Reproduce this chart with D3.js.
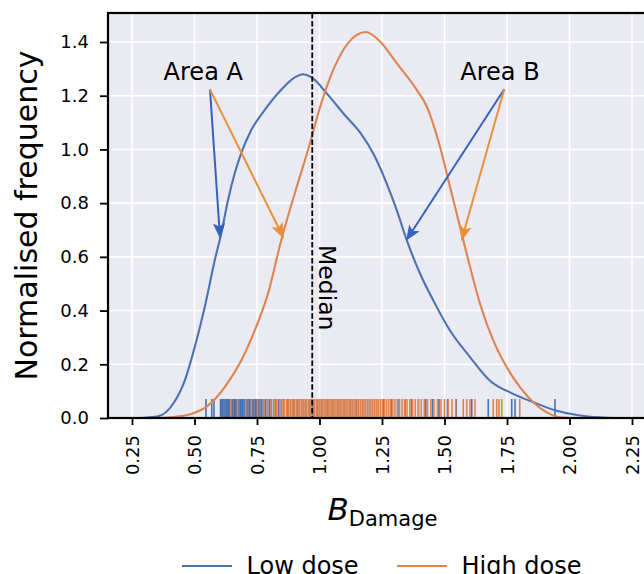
<!DOCTYPE html>
<html>
<head>
<meta charset="utf-8">
<script src="https://cdn.jsdelivr.net/npm/d3@7"></script>
<style>
  html, body { margin: 0; padding: 0; background: #ffffff; overflow: hidden; }
  svg { display: block; }
  text { font-family: "DejaVu Sans", Verdana, sans-serif; fill: #000; }
</style>
</head>
<body>
<svg id="chart" width="644" height="574"></svg>
<script>
// ---------------- data ----------------
const xTicks = [0.25, 0.50, 0.75, 1.00, 1.25, 1.50, 1.75, 2.00, 2.25];
const xTickLabels = ["0.25", "0.50", "0.75", "1.00", "1.25", "1.50", "1.75", "2.00", "2.25"];
const yTicks = [0.0, 0.2, 0.4, 0.6, 0.8, 1.0, 1.2, 1.4];
const yTickLabels = ["0.0", "0.2", "0.4", "0.6", "0.8", "1.0", "1.2", "1.4"];

const seriesNames = ["Low dose", "High dose"];

// KDE curves
const lowX = [0.25, 0.30, 0.354, 0.414, 0.461, 0.501, 0.541, 0.581, 0.607, 0.634, 0.661, 0.687, 0.727, 0.781, 0.847, 0.901, 0.934, 0.967, 1.034, 1.101, 1.165, 1.215, 1.269, 1.309, 1.349, 1.402, 1.455, 1.522, 1.602, 1.682, 1.775, 1.855, 1.949, 2.042, 2.149, 2.23];
const lowY = [0.0, 0.001, 0.006, 0.052, 0.139, 0.264, 0.413, 0.587, 0.687, 0.811, 0.911, 0.986, 1.072, 1.147, 1.222, 1.268, 1.280, 1.269, 1.203, 1.128, 1.060, 0.985, 0.873, 0.774, 0.662, 0.538, 0.438, 0.326, 0.227, 0.139, 0.090, 0.059, 0.027, 0.009, 0.001, 0.0];

const highX = [0.36, 0.394, 0.44, 0.487, 0.554, 0.621, 0.687, 0.741, 0.794, 0.847, 0.901, 0.954, 1.007, 1.061, 1.114, 1.185, 1.242, 1.309, 1.389, 1.429, 1.482, 1.522, 1.562, 1.602, 1.642, 1.695, 1.749, 1.802, 1.855, 1.909, 1.962, 2.02];
const highY = [0.0, 0.002, 0.006, 0.015, 0.046, 0.115, 0.214, 0.326, 0.463, 0.662, 0.836, 0.998, 1.172, 1.309, 1.396, 1.437, 1.402, 1.321, 1.222, 1.160, 1.010, 0.861, 0.712, 0.563, 0.426, 0.289, 0.189, 0.115, 0.059, 0.021, 0.003, 0.0];

// rug values (individual observations)
const lowRug = [0.546, 0.569, 0.578, 0.604, 0.609, 0.613, 0.618, 0.622, 0.627, 0.631, 0.636, 0.640, 0.645, 0.650, 0.654, 0.659, 0.664, 0.668, 0.673, 0.678, 0.683, 0.688, 0.693, 0.698, 0.703, 0.709, 0.714, 0.720, 0.726, 0.731, 0.737, 0.743, 0.749, 0.756, 0.762, 0.769, 0.776, 0.783, 0.791, 0.799, 0.807, 0.816, 0.826, 0.836, 0.847, 0.858, 0.870, 0.884, 0.898, 0.913, 0.929, 0.945, 0.962, 0.972, 0.991, 1.010, 1.031, 1.052, 1.075, 1.098, 1.122, 1.147, 1.173, 1.200, 1.228, 1.257, 1.287, 1.318, 1.342, 1.368, 1.396, 1.425, 1.452, 1.473, 1.478, 1.512, 1.547, 1.609, 1.675, 1.769, 1.782, 1.942];
const highRug = [0.645, 0.672, 0.705, 0.728, 0.752, 0.778, 0.792, 0.806, 0.818, 0.829, 0.840, 0.850, 0.859, 0.868, 0.876, 0.884, 0.892, 0.900, 0.907, 0.914, 0.921, 0.928, 0.935, 0.942, 0.948, 0.955, 0.962, 0.968, 0.975, 0.981, 0.988, 0.994, 1.000, 1.006, 1.012, 1.018, 1.024, 1.030, 1.036, 1.042, 1.048, 1.054, 1.060, 1.066, 1.072, 1.078, 1.084, 1.090, 1.096, 1.102, 1.108, 1.114, 1.120, 1.126, 1.132, 1.138, 1.144, 1.150, 1.157, 1.164, 1.171, 1.178, 1.185, 1.192, 1.199, 1.206, 1.213, 1.220, 1.228, 1.236, 1.244, 1.252, 1.260, 1.268, 1.276, 1.284, 1.293, 1.302, 1.311, 1.320, 1.330, 1.340, 1.350, 1.361, 1.372, 1.383, 1.395, 1.407, 1.419, 1.432, 1.445, 1.458, 1.472, 1.486, 1.500, 1.515, 1.530, 1.545, 1.575, 1.589, 1.602, 1.622, 1.695, 1.709, 1.718, 1.729, 1.801];

const medianValue = 0.971;

// annotations: label, text anchor point, arrow start, arrow targets (low, high)
const annLabels = ["Area A", "Area B"];
const annTextX = [0.535, 1.722];
const annTextY = [1.26, 1.26];
const annStartX = [0.562, 1.739];
const annStartY = [1.223, 1.224];
const annLowTipX = [0.602, 1.349];
const annLowTipY = [0.673, 0.664];
const annHighTipX = [0.855, 1.569];
const annHighTipY = [0.673, 0.664];

// ---------------- layout ----------------
const colors = ["#4c72b0", "#dd8452"];
const arrowColors = ["#3462c0", "#e8903c"];
const plot = { left: 108, top: 13, right: 646, bottom: 418 };

const svg = d3.select("#chart");
const x = d3.scaleLinear().domain([0.154, 2.306]).range([plot.left, plot.right]);
const y = d3.scaleLinear().domain([0, 1.508]).range([plot.bottom, plot.top]);

svg.append("defs").append("clipPath").attr("id", "clip")
  .append("rect").attr("x", plot.left).attr("y", plot.top)
  .attr("width", plot.right - plot.left).attr("height", plot.bottom - plot.top);

// background
svg.append("rect").attr("x", plot.left).attr("y", plot.top)
  .attr("width", plot.right - plot.left).attr("height", plot.bottom - plot.top)
  .attr("fill", "#eaeaf2");

// grid
const grid = svg.append("g").attr("clip-path", "url(#clip)");
grid.selectAll("line.gx").data(xTicks).join("line")
  .attr("x1", d => x(d)).attr("x2", d => x(d))
  .attr("y1", plot.top).attr("y2", plot.bottom)
  .attr("stroke", "#fff").attr("stroke-width", 1.6);
grid.selectAll("line.gy").data(yTicks).join("line")
  .attr("class", "gy")
  .attr("x1", plot.left).attr("x2", plot.right)
  .attr("y1", d => y(d)).attr("y2", d => y(d))
  .attr("stroke", "#fff").attr("stroke-width", 1.6);

const content = svg.append("g").attr("clip-path", "url(#clip)");

// rug
const rugTop = plot.bottom - 19;
[lowRug, highRug].forEach((arr, i) => {
  content.append("g").selectAll("line").data(arr).join("line")
    .attr("x1", d => x(d)).attr("x2", d => x(d))
    .attr("y1", rugTop).attr("y2", plot.bottom)
    .attr("stroke", colors[i]).attr("stroke-width", 1.6);
});

// KDE curves
const line = d3.line().x(d => x(d[0])).y(d => y(d[1])).curve(d3.curveMonotoneX);
content.append("path").datum(lowX.map((v, i) => [v, lowY[i]]))
  .attr("d", line).attr("fill", "none").attr("stroke", colors[0]).attr("stroke-width", 2.1);
content.append("path").datum(highX.map((v, i) => [v, highY[i]]))
  .attr("d", line).attr("fill", "none").attr("stroke", colors[1]).attr("stroke-width", 2.1);

// median line
content.append("line")
  .attr("x1", x(medianValue)).attr("x2", x(medianValue))
  .attr("y1", plot.top).attr("y2", plot.bottom)
  .attr("stroke", "#000").attr("stroke-width", 1.8)
  .attr("stroke-dasharray", "5.5,2.4");
svg.append("text")
  .attr("transform", `translate(${x(medianValue) + 7},${245}) rotate(90)`)
  .attr("font-size", 23.5)
  .text("Median");

// arrows
function arrow(g, x0, y0, x1, y1, color) {
  const dx = x1 - x0, dy = y1 - y0;
  const len = Math.sqrt(dx * dx + dy * dy);
  const ang = Math.atan2(dy, dx) * 180 / Math.PI;
  const headL = 13, headW = 5.2, notch = 10;
  g.append("line")
    .attr("x1", x0).attr("y1", y0)
    .attr("x2", x0 + dx * (len - notch) / len).attr("y2", y0 + dy * (len - notch) / len)
    .attr("stroke", color).attr("stroke-width", 2);
  g.append("path")
    .attr("transform", `translate(${x1},${y1}) rotate(${ang})`)
    .attr("d", `M0,0 L${-headL},${-headW} L${-notch},0 L${-headL},${headW} Z`)
    .attr("fill", color).attr("stroke", color).attr("stroke-width", 1);
}
const annG = svg.append("g");
annLabels.forEach((lab, i) => {
  annG.append("text")
    .attr("x", x(annTextX[i])).attr("y", y(annTextY[i]))
    .attr("text-anchor", "middle").attr("font-size", 24)
    .text(lab);
  arrow(annG, x(annStartX[i]), y(annStartY[i]), x(annLowTipX[i]), y(annLowTipY[i]), arrowColors[0]);
  arrow(annG, x(annStartX[i]), y(annStartY[i]), x(annHighTipX[i]), y(annHighTipY[i]), arrowColors[1]);
});

// spines
svg.append("rect").attr("x", plot.left).attr("y", plot.top)
  .attr("width", plot.right - plot.left).attr("height", plot.bottom - plot.top)
  .attr("fill", "none").attr("stroke", "#000").attr("stroke-width", 2.2);

// axes
const xAxis = d3.axisBottom(x).tickValues(xTicks).tickSize(7).tickPadding(10)
  .tickFormat((d, i) => xTickLabels[i]);
const gx = svg.append("g").attr("transform", `translate(0,${plot.bottom})`).call(xAxis);
gx.select(".domain").remove();
gx.selectAll(".tick line").attr("stroke", "#000").attr("stroke-width", 1.8);
gx.selectAll(".tick text")
  .attr("font-family", "DejaVu Sans").attr("font-size", 18).attr("fill", "#000")
  .attr("text-anchor", "end")
  .attr("transform", "translate(0,17) rotate(-90)")
  .attr("x", 0).attr("y", 0).attr("dy", "0.36em");

const yAxis = d3.axisLeft(y).tickValues(yTicks).tickSize(8).tickPadding(11)
  .tickFormat((d, i) => yTickLabels[i]);
const gy = svg.append("g").attr("transform", `translate(${plot.left},0)`).call(yAxis);
gy.select(".domain").remove();
gy.selectAll(".tick line").attr("stroke", "#000").attr("stroke-width", 1.8);
gy.selectAll(".tick text")
  .attr("font-family", "DejaVu Sans").attr("font-size", 18).attr("fill", "#000");

// axis labels
svg.append("text")
  .attr("transform", `translate(37,${(plot.top + plot.bottom) / 2}) rotate(-90)`)
  .attr("text-anchor", "middle").attr("font-size", 30)
  .text("Normalised frequency");

const xl = svg.append("text").attr("x", 382.5).attr("y", 519.5).attr("text-anchor", "middle");
xl.append("tspan").attr("font-size", 31).attr("font-style", "italic").text("B");
xl.append("tspan").attr("font-size", 21).attr("dy", 6.5).text("Damage");

// legend
const legX = [182, 397];
seriesNames.forEach((name, i) => {
  svg.append("line")
    .attr("x1", legX[i]).attr("x2", legX[i] + 50)
    .attr("y1", 566).attr("y2", 566)
    .attr("stroke", colors[i]).attr("stroke-width", 2);
  svg.append("text")
    .attr("x", legX[i] + 64.5).attr("y", 574)
    .attr("font-size", 24)
    .text(name);
});
</script>
</body>
</html>
